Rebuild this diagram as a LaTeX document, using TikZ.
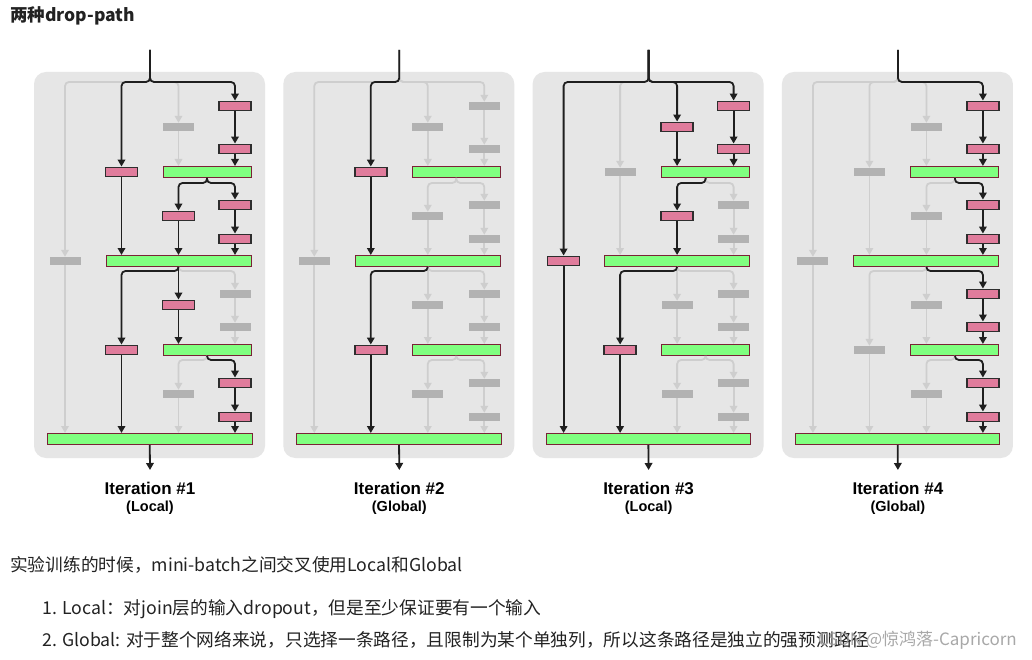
\documentclass[tikz,border=0pt]{standalone}
\usepackage{fontspec}
\setmainfont{Liberation Sans}
\newfontfamily\cjk{Noto Sans CJK SC}
\usetikzlibrary{arrows.meta}
\definecolor{panelbg}{HTML}{E6E6E6}
\definecolor{grayline}{HTML}{CECECE}
\definecolor{grayblk}{HTML}{B2B2B2}
\definecolor{pinkc}{HTML}{E07C9C}
\definecolor{blkborder}{HTML}{2E2E2E}
\definecolor{greenc}{HTML}{80FF80}
\definecolor{joinborder}{HTML}{7A2236}
\definecolor{txt}{HTML}{222222}

\tikzset{
  edgebase/.style={line width=1.8pt,-{Triangle[width=7.5pt,length=7pt]},rounded corners=4pt},
  edgeon/.style={edgebase,draw=black!88},
  edgeoff/.style={edgebase,draw=grayline},
  blkon/.style={draw=blkborder,line width=1.4pt,fill=pinkc,minimum width=32pt,minimum height=9.5pt,inner sep=0pt},
  blkoff/.style={draw=none,fill=grayblk,minimum width=31pt,minimum height=8pt,inner sep=0pt},
  joinbar/.style={draw=joinborder,line width=1pt,fill=greenc,minimum height=11pt,inner sep=0pt},
  lab1/.style={font=\fontsize{17}{20}\selectfont\bfseries,text=black,inner sep=0pt},
  lab2/.style={font=\fontsize{14.5}{17}\selectfont\bfseries,text=black,inner sep=0pt},
  panel/.style={fill=panelbg,rounded corners=12pt},
  txtnode/.style={anchor=west,inner sep=0pt,text=txt,font=\cjk\fontsize{17.7}{21}\selectfont},
}

\newcommand\setpath[2]{\tikzset{b#1/.style={blk#2},e#1/.style={edge#2}}}
\newcommand\states[9]{\setpath{A}{#1}\setpath{B}{#2}\setpath{C}{#3}\setpath{D}{#4}\setpath{E}{#5}\setpath{F}{#6}\setpath{G}{#7}\setpath{H}{#8}\setpath{I}{#9}\statesb}
\newcommand\statesb[2]{\setpath{J}{#1}\setpath{K}{#2}}

\newcommand\branch[4]{\draw[#1] (#2) -- (#2 |- 0,#4) -- (#3 |- 0,#4) -- (#3.north);}

\newcommand\fedges[1]{%
  % A
  \branch{eA}{#1in}{#1a1}{82}
  \draw[eA] (#1a1.south) -- (#1a3.north);
  \draw[eA] (#1a3.south) -- (#1a3 |- #1J1.north);
  % B
  \branch{eB}{#1in}{#1a2}{82}
  \draw[eB] (#1a2.south) -- (#1a2 |- #1J1.north);
  % C
  \branch{eC}{#1in}{#1a4}{82}
  \draw[eC] (#1a4.south) -- (#1a4 |- #1J2.north);
  % D
  \branch{eD}{#1in}{#1c1}{82}
  \draw[eD] (#1c1.south) -- (#1c1 |- #1J4.north);
  % E
  \branch{eE}{#1J1.south}{#1b1}{183}
  \draw[eE] (#1b1.south) -- (#1b3.north);
  \draw[eE] (#1b3.south) -- (#1b3 |- #1J2.north);
  % F
  \branch{eF}{#1J1.south}{#1b2}{183}
  \draw[eF] (#1b2.south) -- (#1b2 |- #1J2.north);
  % G
  \branch{eG}{#1J2.south}{#1d1}{271}
  \draw[eG] (#1d1.south) -- (#1d3.north);
  \draw[eG] (#1d3.south) -- (#1d3 |- #1J3.north);
  % H
  \draw[eH] (#1J2.south) -- (#1d2.north);
  \draw[eH] (#1d2.south) -- (#1d2 |- #1J3.north);
  % I
  \branch{eI}{#1J2.south}{#1d4}{271}
  \draw[eI] (#1d4.south) -- (#1d4 |- #1J4.north);
  % J
  \branch{eJ}{#1J3.south}{#1e1}{360}
  \draw[eJ] (#1e1.south) -- (#1e3.north);
  \draw[eJ] (#1e3.south) -- (#1e3 |- #1J4.north);
  % K
  \branch{eK}{#1J3.south}{#1e2}{360}
  \draw[eK] (#1e2.south) -- (#1e2 |- #1J4.north);
}

\newcommand\fractal[4]{%
\begin{scope}[xshift=#2pt]
  \fill[panel] (34,72) rectangle (265,458);
  \coordinate (#1in) at (150,50);
  \coordinate (#1out) at (150,470);
  \node[bA] (#1a1) at (235,106) {};
  \node[bB] (#1a2) at (178.5,127) {};
  \node[bA] (#1a3) at (235,149) {};
  \node[bC] (#1a4) at (121.5,172) {};
  \node[joinbar,minimum width=88pt] (#1J1) at (207,172) {};
  \node[bE] (#1b1) at (235,205) {};
  \node[bF] (#1b2) at (178.5,216) {};
  \node[bE] (#1b3) at (235,239) {};
  \node[bD] (#1c1) at (65,261) {};
  \node[joinbar,minimum width=145pt] (#1J2) at (178.5,261) {};
  \node[bG] (#1d1) at (235,294) {};
  \node[bH] (#1d2) at (178.5,305) {};
  \node[bG] (#1d3) at (235,327) {};
  \node[bI] (#1d4) at (121.5,350) {};
  \node[joinbar,minimum width=88pt] (#1J3) at (207,350) {};
  \node[bJ] (#1e1) at (235,383) {};
  \node[bK] (#1e2) at (178.5,394) {};
  \node[bJ] (#1e3) at (235,417) {};
  \node[joinbar,minimum width=204.5pt] (#1J4) at (149.75,439) {};
  \begingroup\tikzset{edgeon/.style={draw=none}}\fedges{#1}\endgroup
  \begingroup\tikzset{edgeoff/.style={draw=none}}\fedges{#1}\endgroup
  \draw[edgebase,draw=black!88] (#1J4.south) -- (#1out);
  \node[lab1] (#1t1) at (150,488) {#3};
  \node[lab2] (#1t2) at (150,507.5) {#4};
\end{scope}}

\begin{document}
\begin{tikzpicture}[x=1pt,y=-1pt]
\useasboundingbox (0,0) rectangle (1032,660);
\fill[white] (0,0) rectangle (1032,660);

\node[txtnode,font=\cjk\fontsize{17.5}{20}\selectfont\bfseries] (title) at (10,16) {两种drop-path};

\states{on}{off}{on}{off}{on}{on}{off}{on}{on}{on}{off}
\fractal{p}{0}{Iteration \#1}{(Local)}
\states{off}{off}{on}{off}{off}{off}{off}{off}{on}{off}{off}
\fractal{q}{249.3}{Iteration \#2}{(Global)}
\states{on}{on}{off}{on}{off}{on}{off}{off}{on}{off}{off}
\fractal{r}{498.6}{Iteration \#3}{(Local)}
\states{on}{off}{off}{off}{on}{off}{on}{off}{off}{on}{off}
\fractal{s}{747.9}{Iteration \#4}{(Global)}

\node[txtnode] (body) at (10,565) {实验训练的时候，mini-batch之间交叉使用Local和Global};
\node[txtnode] (item1) at (42,609) {1. Local：对join层的输入dropout，但是至少保证要有一个输入};
\node[txtnode] (item2) at (42,640) {2. Global: 对于整个网络来说，只选择一条路径，且限制为某个单独列，所以这条路径是独立的强预测路径};
\node[anchor=east,inner sep=0pt,text=gray!80,opacity=0.85,font=\cjk\fontsize{17}{20}\selectfont] (wm) at (1017,640) {CSDN @惊鸿落-Capricorn};
\end{tikzpicture}
\end{document}
